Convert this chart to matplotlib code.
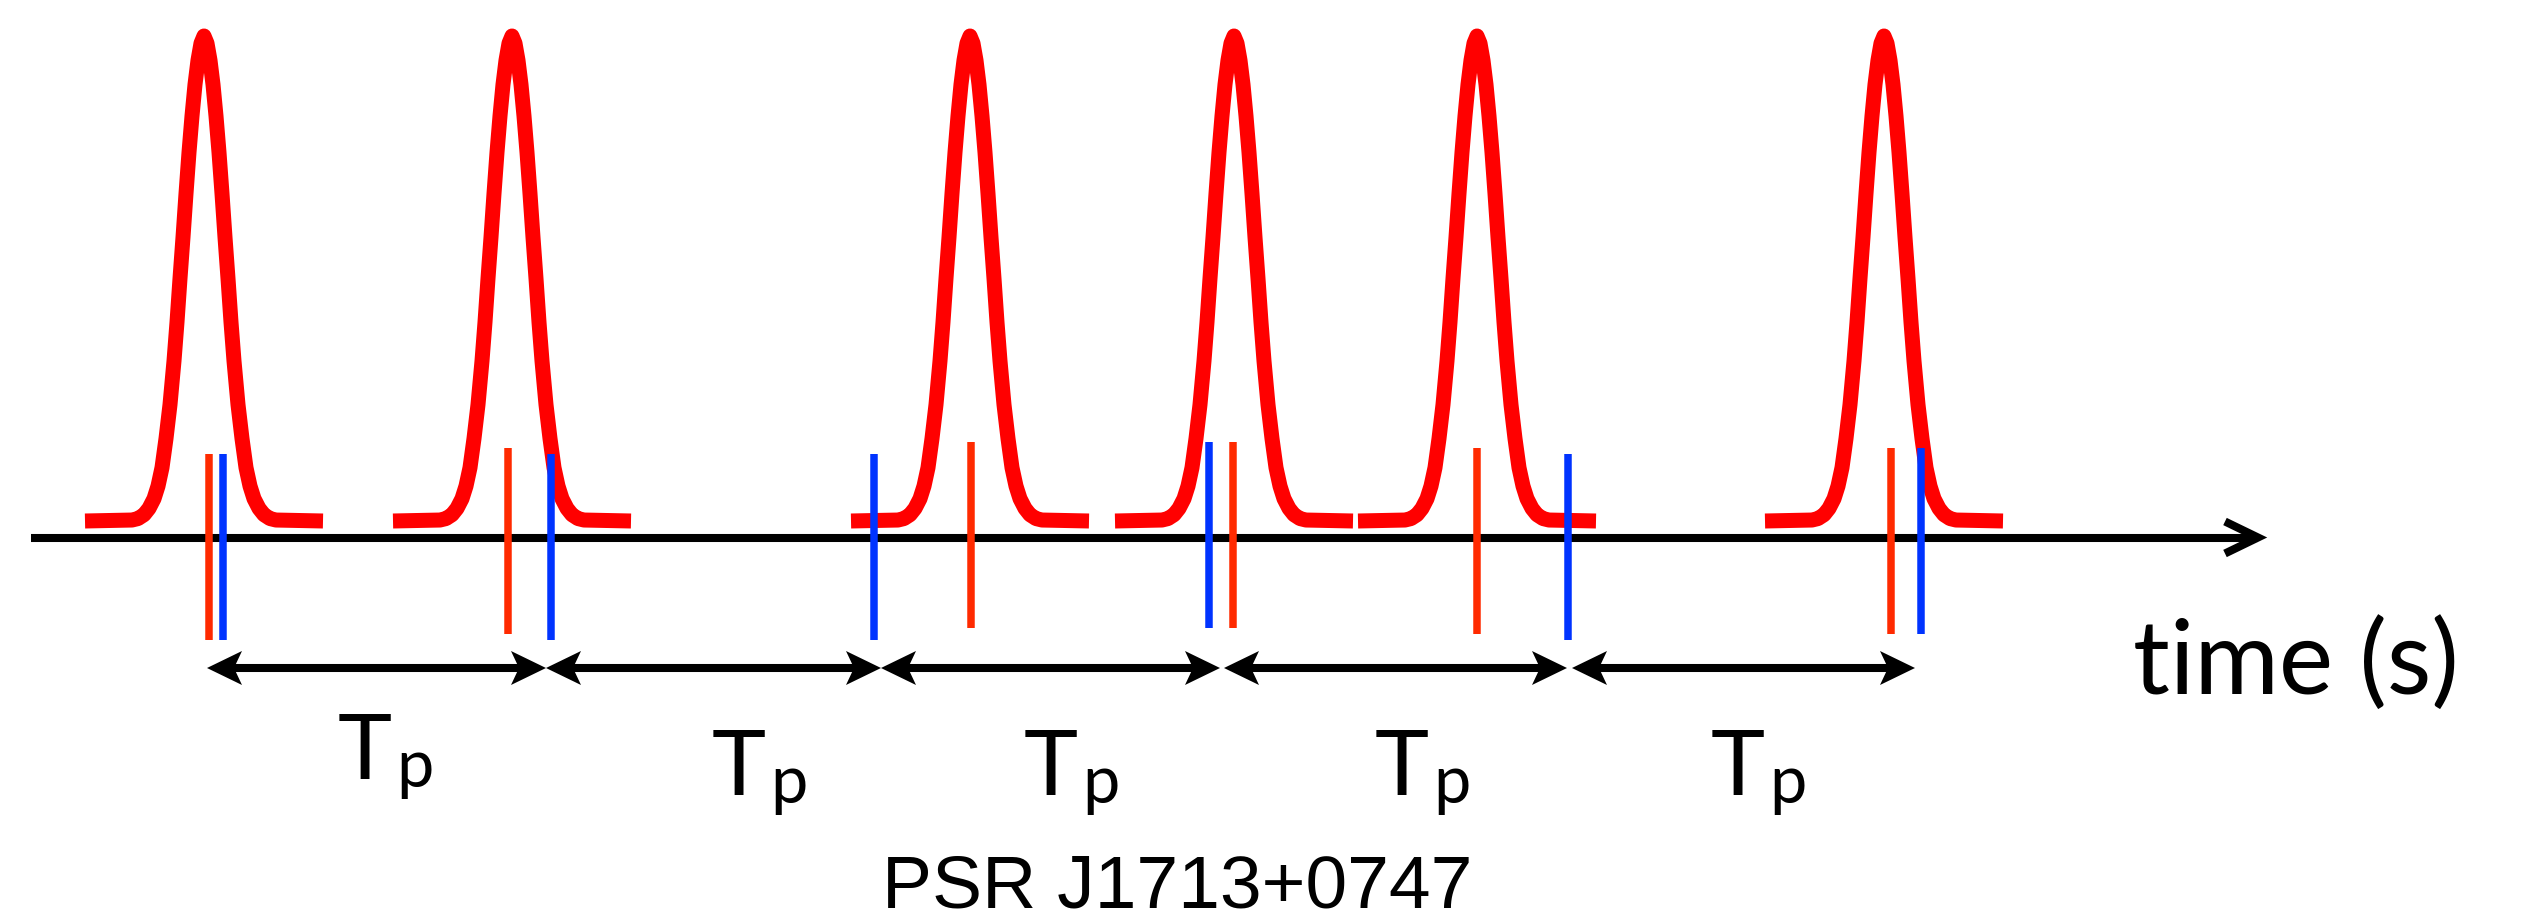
import numpy as np
import matplotlib
matplotlib.use('Agg')
import matplotlib.pyplot as plt
from matplotlib.patches import Polygon

# --- canvas, drawn in pixel units (y grows downward) ---
W, H = 2539, 922
DPI = 100

PULSE_RED = "#ff0000"
TOA_RED = "#ff2a00"
TOA_BLUE = "#0033ff"
INK = "#000000"

# --- data ---
# pulse centres along the time axis
pulse_centre = [204, 512, 970, 1234, 1477, 1884]
# half of the (symmetric) pulse template: offset from centre, height relative to peak
profile_dx = [0, 3, 6, 9, 12, 15, 18, 21, 24, 27, 30, 34, 38, 42, 46, 50, 55, 60, 66, 72, 119]
profile_h = [1.0, 0.985, 0.95, 0.9, 0.835, 0.76, 0.675, 0.585, 0.5, 0.41, 0.33, 0.24,
             0.17, 0.11, 0.072, 0.046, 0.026, 0.013, 0.005, 0.002, 0.0]
pulse_base = 521
pulse_peak = 36

# times of arrival: red and blue ticks
toa_red = [209, 508, 971, 1233, 1477, 1891]
toa_blue = [223, 551, 874, 1209, 1568, 1921]
toa_red_top = [454, 448, 442, 442, 448, 448]
toa_blue_top = [454, 454, 454, 442, 454, 448]
toa_len = 186

# period intervals
period_start = [207, 546, 881, 1224, 1572]
period_end = [546, 881, 1220, 1567, 1915]
period_y = 668

# label layout
tp_left = [338, 712, 1024, 1375, 1711]
tp_base = [779, 795, 795, 795, 795]

AXIS_Y = 537.5
AXIS_X0 = 31
AXIS_TIP = 2258


def stealth(tip_x, y, direction, length=35, notch=27, half=17):
    d = direction
    pts = [(tip_x, y), (tip_x - d * length, y - half),
           (tip_x - d * notch, y), (tip_x - d * length, y + half)]
    return Polygon(pts, closed=True, facecolor=INK, edgecolor='none', zorder=5)


fig = plt.figure(figsize=(W / DPI, H / DPI), dpi=DPI)
ax = fig.add_axes([0, 0, 1, 1])
ax.set_xlim(0, W)
ax.set_ylim(H, 0)
ax.set_axis_off()

# time axis with open arrow head
ax.plot([AXIS_X0, AXIS_TIP], [AXIS_Y, AXIS_Y], color=INK, lw=5.8,
        solid_capstyle='butt', zorder=1)
ax.plot([AXIS_TIP - 33, AXIS_TIP, AXIS_TIP - 33], [AXIS_Y - 16, AXIS_Y, AXIS_Y + 16],
        color=INK, lw=5.8, solid_joinstyle='miter', solid_capstyle='butt', zorder=1)

# pulses (mirror the half template)
half_dx = np.array(profile_dx, dtype=float)
half_h = np.array(profile_h, dtype=float)
dx = np.concatenate([-half_dx[::-1], half_dx[1:]])
hh = np.concatenate([half_h[::-1], half_h[1:]])
for c in pulse_centre:
    ax.plot(c + dx, pulse_base - hh * (pulse_base - pulse_peak), color=PULSE_RED,
            lw=10.8, solid_capstyle='butt', solid_joinstyle='round', zorder=2)

# TOA ticks
for x, top in zip(toa_red, toa_red_top):
    ax.plot([x, x], [top, top + toa_len], color=TOA_RED, lw=5.4,
            solid_capstyle='butt', zorder=3)
for x, top in zip(toa_blue, toa_blue_top):
    ax.plot([x, x], [top, top + toa_len], color=TOA_BLUE, lw=5.4,
            solid_capstyle='butt', zorder=4)

# double arrows for each period
for s, e in zip(period_start, period_end):
    ax.plot([s + 25, e - 25], [period_y, period_y], color=INK, lw=5.8,
            solid_capstyle='butt', zorder=5)
    ax.add_patch(stealth(s, period_y, -1))
    ax.add_patch(stealth(e, period_y, 1))

# T_p labels
for x, b in zip(tp_left, tp_base):
    ax.text(x, b, "T", fontsize=66, family=['Lato', 'DejaVu Sans'],
            ha='left', va='baseline', color=INK)
    ax.text(x + 58, b + 8, "p", fontsize=48, family=['Lato', 'DejaVu Sans'],
            ha='left', va='baseline', color=INK)

ax.text(2133, 694, "time (s)", fontsize=74, family=['Lato', 'DejaVu Sans'],
        ha='left', va='baseline', color=INK)
ax.text(882, 907, "PSR J1713+0747", fontsize=54,
        family=['Liberation Sans', 'DejaVu Sans'],
        ha='left', va='baseline', color=INK)

fig.savefig("out.png", dpi=DPI, facecolor='white')
